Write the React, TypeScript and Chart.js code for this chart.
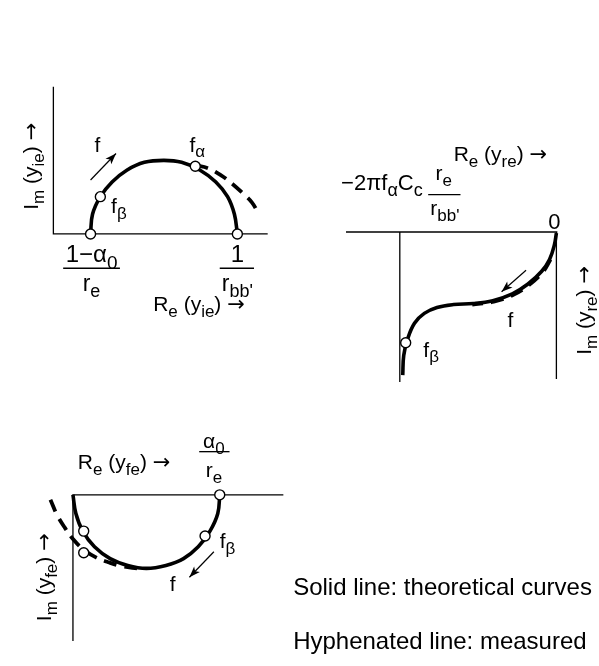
import React, { useEffect, useRef } from 'react';
import { Chart, registerables } from 'chart.js';
Chart.register(...registerables);

type P = [number, number];

// ---------- Diagram 1: y_ie (upper left) ----------
const axis1: P[] = [[48, 82], [48, 232], [267, 232]];
const curve1: P[] = [
  [86, 232], [88, 212], [96, 194], [108, 179], [123, 167], [141, 159], [161, 157],
  [179, 159], [198, 167], [214, 179], [226, 194], [233, 212], [236, 232],
];
const measured1: P[] = [[193, 162], [206, 165], [219, 172], [231, 181], [242, 191], [251, 200], [257, 210]];
const marks1: P[] = [[86, 232], [96, 194], [193, 163], [236, 232]];
const arrow1: P[] = [[86, 177], [112, 150]];

// ---------- Diagram 2: y_re (upper right) ----------
const axis2a: P[] = [[347, 230], [563, 230]];
const axis2b: P[] = [[402, 230], [402, 383]];
const axis2c: P[] = [[562, 230], [562, 380]];
const curve2: P[] = [
  [562, 231], [560, 243], [555, 258], [547, 270], [533, 283], [517, 293], [497, 300],
  [477, 303], [457, 304], [440, 307], [427, 313], [417, 323], [410, 339], [406, 356], [405, 376],
];
const measured2: P[] = [[556, 258], [548, 271], [534, 284], [518, 294], [498, 301], [476, 304]];
const marks2: P[] = [[408, 343]];
const arrow2: P[] = [[531, 269], [506, 291]];

// ---------- Diagram 3: y_fe (lower left) ----------
const axis3: P[] = [[283, 498], [68, 498], [68, 647]];
const curve3: P[] = [
  [68, 498], [71, 517], [78, 535], [90, 551], [106, 563], [124, 570], [143, 573],
  [163, 570], [181, 563], [196, 551], [208, 535], [216, 517], [218, 498],
];
const measured3: P[] = [[45, 503], [52, 519], [60, 532], [68, 543], [79, 554], [92, 562], [105, 567], [119, 571], [134, 573]];
const marks3: P[] = [[218, 498], [79, 535], [203, 540], [79, 557]];
const arrow3: P[] = [[212, 556], [187, 582]];

// fraction bars
const bars: P[][] = [
  [[58, 267], [116, 267]],
  [[218, 267], [253, 267]],
  [[431, 192], [464, 192]],
  [[197, 454], [228, 454]],
];

// text: segments [text, kind] kind 0 = normal, 1 = subscript, 2 = arrow glyph
type Seg = [string, number];
type Label = { s: Seg[]; x: number; y: number; a: 'left' | 'center'; r?: boolean; z?: number };
const labels: Label[] = [
  { s: [['I', 0], ['m', 1], [' (y', 0], ['ie', 1], [') ', 0], ['→', 2]], x: 25, y: 163, a: 'center', r: true },
  { s: [['f', 0]], x: 93, y: 148, a: 'center' },
  { s: [['f', 0], ['α', 1]], x: 187, y: 148, a: 'left' },
  { s: [['f', 0], ['β', 1]], x: 107, y: 211, a: 'left' },
  { s: [['1−α', 0], ['0', 1]], x: 87, y: 261, a: 'center', z: 24 },
  { s: [['r', 0], ['e', 1]], x: 87, y: 290, a: 'center', z: 23 },
  { s: [['1', 0]], x: 236, y: 261, a: 'center', z: 24 },
  { s: [['r', 0], ["bb'", 1]], x: 236, y: 290, a: 'center', z: 23 },
  { s: [['R', 0], ['e', 1], [' (y', 0], ['ie', 1], [') ', 0], ['→', 2]], x: 150, y: 311, a: 'left' },

  { s: [['R', 0], ['e', 1], [' (y', 0], ['re', 1], [') ', 0], ['→', 2]], x: 457, y: 158, a: 'left' },
  { s: [['−2πf', 0], ['α', 1], ['C', 0], ['c', 1]], x: 342, y: 187, a: 'left', z: 22 },
  { s: [['r', 0], ['e', 1]], x: 447, y: 177, a: 'center' },
  { s: [['r', 0], ["bb'", 1]], x: 448, y: 213, a: 'center' },
  { s: [['0', 0]], x: 560, y: 227, a: 'center', z: 22 },
  { s: [['f', 0]], x: 515, y: 327, a: 'center' },
  { s: [['f', 0], ['β', 1]], x: 426, y: 357, a: 'left' },
  { s: [['I', 0], ['m', 1], [' (y', 0], ['re', 1], [') ', 0], ['→', 2]], x: 590, y: 310, a: 'center', r: true },

  { s: [['R', 0], ['e', 1], [' (y', 0], ['fe', 1], [') ', 0], ['→', 2]], x: 73, y: 472, a: 'left' },
  { s: [['α', 0], ['0', 1]], x: 212, y: 450, a: 'center' },
  { s: [['r', 0], ['e', 1]], x: 212, y: 480, a: 'center' },
  { s: [['f', 0], ['β', 1]], x: 218, y: 552, a: 'left' },
  { s: [['f', 0]], x: 170, y: 596, a: 'center' },
  { s: [['I', 0], ['m', 1], [' (y', 0], ['fe', 1], [') ', 0], ['→', 2]], x: 38, y: 582, a: 'center', r: true },

  { s: [['Solid line: theoretical curves', 0]], x: 293, y: 600, a: 'left', z: 24 },
  { s: [['Hyphenated line: measured', 0]], x: 293, y: 655, a: 'left', z: 24 },
];

const FONT = '"Liberation Sans", Arial, Helvetica, sans-serif';
const ARROW_FONT = '"DejaVu Sans", sans-serif';
const toXY = (pts: P[]) => pts.map(([x, y]) => ({ x, y }));

const fontFor = (kind: number, size: number) => {
  if (kind === 1) return `${Math.round(size * 0.8)}px ${FONT}`;
  if (kind === 2) return `${size}px ${ARROW_FONT}`;
  return `${size}px ${FONT}`;
};

const textPlugin = {
  id: 'diagramText',
  afterDraw(chart: any) {
    const ctx: CanvasRenderingContext2D = chart.ctx;
    const sx = chart.scales.x;
    const sy = chart.scales.y;
    ctx.save();
    ctx.fillStyle = '#000';
    ctx.textBaseline = 'alphabetic';
    ctx.textAlign = 'left';
    for (const lb of labels) {
      const size = lb.z ?? 21;
      let w = 0;
      for (const [t, k] of lb.s) {
        ctx.font = fontFor(k, size);
        w += ctx.measureText(t).width;
      }
      const px = sx.getPixelForValue(lb.x);
      const py = sy.getPixelForValue(lb.y);
      ctx.save();
      ctx.translate(px, py);
      let x0 = lb.a === 'center' ? -w / 2 : 0;
      let yb = 0;
      if (lb.r) {
        ctx.rotate(-Math.PI / 2);
        yb = size * 0.36;
      }
      for (const [t, k] of lb.s) {
        ctx.font = fontFor(k, size);
        ctx.fillText(t, x0, yb + (k === 1 ? size * 0.28 : 0));
        x0 += ctx.measureText(t).width;
      }
      ctx.restore();
    }
    ctx.restore();
  },
};

const arrowPlugin = {
  id: 'arrowHeads',
  afterDatasetsDraw(chart: any) {
    const ctx: CanvasRenderingContext2D = chart.ctx;
    chart.data.datasets.forEach((ds: any, i: number) => {
      if (!ds.arrow) return;
      const pts = chart.getDatasetMeta(i).data;
      const a = pts[pts.length - 2];
      const b = pts[pts.length - 1];
      const ang = Math.atan2(b.y - a.y, b.x - a.x);
      const len = 11;
      const hw = 4;
      ctx.save();
      ctx.translate(b.x, b.y);
      ctx.rotate(ang);
      ctx.beginPath();
      ctx.moveTo(0, 0);
      ctx.lineTo(-len, -hw);
      ctx.lineTo(-len * 0.75, 0);
      ctx.lineTo(-len, hw);
      ctx.closePath();
      ctx.fillStyle = '#000';
      ctx.fill();
      ctx.restore();
    });
  },
};

export default function App() {
  const ref = useRef<HTMLCanvasElement | null>(null);
  useEffect(() => {
    document.body.style.margin = '0';
    const thin = (pts: P[]) => ({
      data: toXY(pts), showLine: true, borderColor: '#000', borderWidth: 1.3,
      pointRadius: 0, tension: 0, clip: false as any,
    });
    const thick = (pts: P[]) => ({
      data: toXY(pts), showLine: true, borderColor: '#000', borderWidth: 3.6,
      pointRadius: 0, tension: 0.4, clip: false as any, borderCapStyle: 'butt' as const,
    });
    const dashed = (pts: P[]) => ({
      data: toXY(pts), showLine: true, borderColor: '#000', borderWidth: 3.8,
      pointRadius: 0, tension: 0.4, clip: false as any, borderDash: [13, 8], borderCapStyle: 'butt' as const,
    });
    const marks = (pts: P[]) => ({
      data: toXY(pts), showLine: false, pointRadius: 5, pointBackgroundColor: '#fff',
      pointBorderColor: '#000', pointBorderWidth: 1.4, clip: false as any,
    });
    const arrow = (pts: P[]) => ({ ...thin(pts), arrow: true, borderWidth: 1.2 });

    const datasets: any[] = [
      marks(marks1), marks(marks2), marks(marks3),
      thick(curve1), thick(curve2), thick(curve3),
      dashed(measured1), dashed(measured2), dashed(measured3),
      thin(axis1), thin(axis2a), thin(axis2b), thin(axis2c), thin(axis3),
      ...bars.map(thin),
      arrow(arrow1), arrow(arrow2), arrow(arrow3),
    ];
    const chart = new Chart(ref.current as HTMLCanvasElement, {
      type: 'scatter',
      data: { datasets },
      options: {
        animation: false,
        responsive: false,
        devicePixelRatio: 1,
        events: [],
        layout: { padding: 0 },
        plugins: { legend: { display: false }, tooltip: { enabled: false } },
        scales: {
          x: { type: 'linear', min: 0, max: 599, display: false },
          y: { type: 'linear', min: 0, max: 666, reverse: true, display: false },
        },
      },
      plugins: [arrowPlugin, textPlugin],
    });
    return () => chart.destroy();
  }, []);
  return (
    <div style={{ position: 'absolute', left: 0, top: 0, width: 599, height: 666, background: '#fff' }}>
      <canvas ref={ref} width={599} height={666} />
    </div>
  );
}
